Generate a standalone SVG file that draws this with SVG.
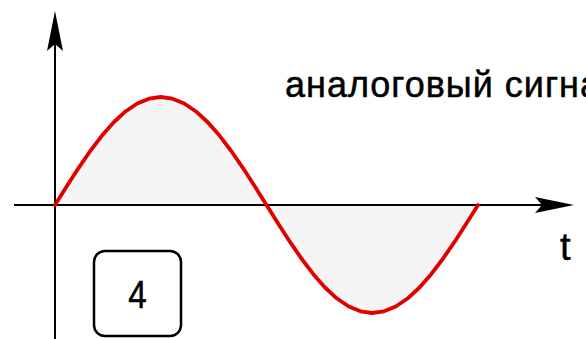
<svg xmlns="http://www.w3.org/2000/svg" width="586" height="339" viewBox="0 0 586 339">
<style>
.ax{stroke:#000;stroke-width:2;fill:none}
.ah{fill:#000;stroke:none}
.sig{stroke:#e00000;stroke-width:3.8;fill:none;stroke-linecap:round;stroke-linejoin:round}
.fill{fill:#f5f5f5;stroke:none}
.lbl{font-family:"Liberation Sans",Arial,sans-serif;fill:#000;stroke:#000;stroke-width:0.5}
</style>
<defs>
<polyline id="wave" points="55,205 66.75,186.25 78.5,168.06 90.25,151 102,135.58 113.75,122.27 125.5,111.47 137.25,103.51 149,98.64 160.75,97 172.5,98.64 184.25,103.51 196,111.47 207.75,122.27 219.5,135.58 231.25,151 243,168.06 254.75,186.25 266.5,205 278.25,223.75 290,241.94 301.75,259 313.5,274.42 325.25,287.73 337,298.53 348.75,306.49 360.5,311.36 372.25,313 384,311.36 395.75,306.49 407.5,298.53 419.25,287.73 431,274.42 442.75,259 454.5,241.94 466.25,223.75 478,205"/>
</defs>
<rect width="586" height="339" fill="#fff"/>
<g id="fill-area">
<use href="#wave" class="fill"/>
</g>
<g id="connectors">
<line class="ax" x1="55" y1="40" x2="55" y2="339"/>
<path class="ah" d="M55,11 L63,51 L55,44 L47,51 Z"/>
<line class="ax" x1="14" y1="205" x2="545" y2="205"/>
<path class="ah" d="M574,205 L535,213 L542,205 L535,197 Z"/>
</g>
<g id="signal">
<use href="#wave" class="sig"/>
</g>
<g id="label">
<text class="lbl" x="285" y="97" font-size="36" letter-spacing="1">аналоговый сигна</text>
</g>
<g id="t-label">
<text class="lbl" x="560" y="260" font-size="38">t</text>
</g>
<g id="box4">
<rect x="94" y="251" width="87" height="85" rx="11" ry="11" fill="#fff" stroke="#000" stroke-width="2.5"/>
<text class="lbl" font-size="39" text-anchor="middle" transform="translate(137.5,308) scale(0.85,1)">4</text>
</g>
</svg>
